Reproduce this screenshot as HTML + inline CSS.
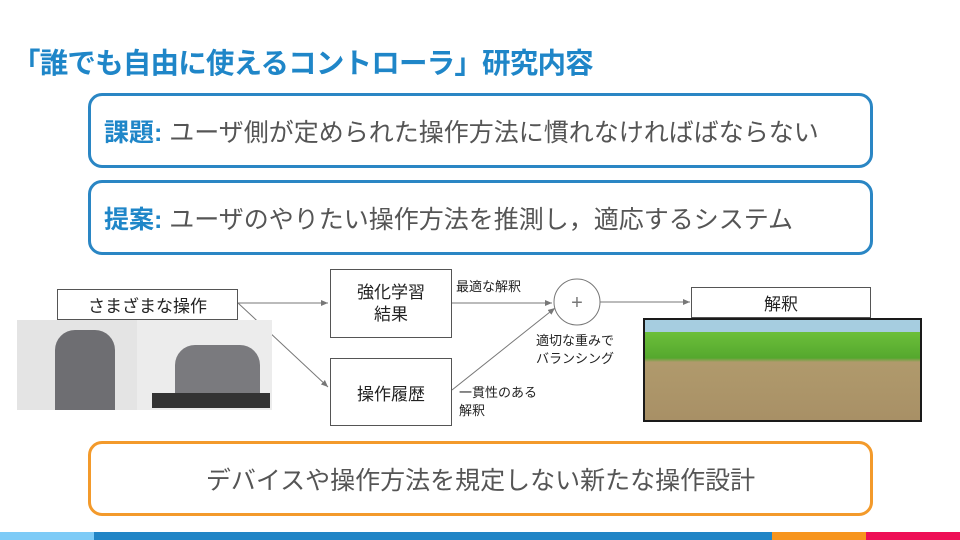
<!DOCTYPE html>
<html><head><meta charset="utf-8"><style>
*{margin:0;padding:0;box-sizing:border-box}
body{width:960px;height:540px;position:relative;background:#fff;font-family:"Liberation Sans","Noto Sans CJK JP",sans-serif;overflow:hidden}
.a{position:absolute}
.title{left:12px;top:41px;font-size:28.5px;font-weight:bold;color:#1f86c8;white-space:nowrap;letter-spacing:-0.8px}
.big{border:3px solid #2a86c4;border-radius:14px;left:88px;width:785px;height:75px;font-size:25px;color:#555;padding-left:13px;display:flex;align-items:center;white-space:nowrap}
.big b{color:#1f86c8}
.bx{border:1px solid #555;background:#fff;display:flex;align-items:center;justify-content:center;text-align:center;color:#222}
.s{font-size:13px;color:#222;line-height:18px;white-space:nowrap}
</style></head><body>
<div class="a title">「誰でも自由に使えるコントローラ」研究内容</div>
<div class="a big" style="top:93px"><b>課題:</b>&nbsp;ユーザ側が定められた操作方法に慣れなければばならない</div>
<div class="a big" style="top:180px"><b>提案:</b>&nbsp;ユーザのやりたい操作方法を推測し，適応するシステム</div>
<div class="a big" style="top:441px;border-color:#f39a2b;justify-content:center;padding:0">デバイスや操作方法を規定しない新たな操作設計</div>

<svg class="a" style="left:0;top:0" width="960" height="540">
<defs><marker id="m" markerWidth="8" markerHeight="8" refX="7" refY="3" orient="auto"><path d="M0,0L7,3L0,6z" fill="#777"/></marker></defs>
<g stroke="#777" stroke-width="1" fill="none">
<line x1="238" y1="303" x2="328" y2="303" marker-end="url(#m)"/>
<line x1="238" y1="303" x2="328" y2="387" marker-end="url(#m)"/>
<polyline points="452,303 552,303" marker-end="url(#m)"/>
<line x1="452" y1="390" x2="555" y2="308" marker-end="url(#m)"/>
<line x1="600" y1="302" x2="690" y2="302" marker-end="url(#m)"/>
<circle cx="577" cy="302" r="23" fill="#fff"/>
</g>
<text x="577" y="309" font-size="20" text-anchor="middle" fill="#777" font-family="Liberation Sans">+</text>
</svg>

<div class="a bx" style="left:57px;top:289px;width:181px;height:31px;font-size:17px">さまざまな操作</div>
<div class="a bx" style="left:330px;top:269px;width:122px;height:69px;font-size:17px;line-height:22px">強化学習<br>結果</div>
<div class="a bx" style="left:330px;top:358px;width:122px;height:68px;font-size:17px">操作履歴</div>
<div class="a bx" style="left:691px;top:287px;width:180px;height:31px;font-size:17px">解釈</div>
<div class="a s" style="left:456px;top:278px">最適な解釈</div>
<div class="a s" style="left:536px;top:332px">適切な重みで<br>バランシング</div>
<div class="a s" style="left:459px;top:384px">一貫性のある<br>解釈</div>

<div class="a" style="left:17px;top:320px;width:120px;height:90px;background:#e4e4e4"></div>
<div class="a" style="left:55px;top:330px;width:60px;height:80px;background:#6e6e72;border-radius:20px 20px 0 0"></div>
<div class="a" style="left:137px;top:320px;width:135px;height:90px;background:#ececec"></div>
<div class="a" style="left:175px;top:345px;width:85px;height:55px;background:#7a7a7e;border-radius:20px 20px 0 0"></div>
<div class="a" style="left:152px;top:393px;width:118px;height:15px;background:#333"></div>

<div class="a" style="left:643px;top:318px;width:279px;height:104px;background:#1a1a1a;padding:2px">
<div style="width:100%;height:100%;background:linear-gradient(#a6cde0 0,#a6cde0 12%,#6cbf3a 12%,#55a82e 38%,#b09a6c 42%,#a89066 100%)"></div>
</div>

<div class="a" style="left:0;top:532px;width:94px;height:8px;background:#7dcbf7"></div>
<div class="a" style="left:94px;top:532px;width:678px;height:8px;background:#2185c6"></div>
<div class="a" style="left:772px;top:532px;width:94px;height:8px;background:#f7951e"></div>
<div class="a" style="left:866px;top:532px;width:94px;height:8px;background:#ee0f56"></div>
</body></html>
